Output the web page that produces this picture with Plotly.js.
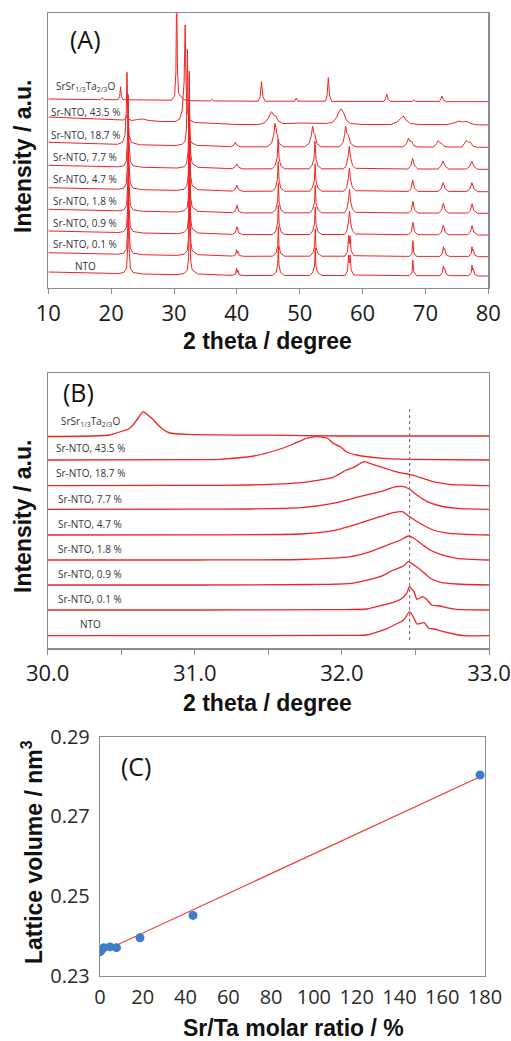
<!DOCTYPE html>
<html>
<head>
<meta charset="utf-8">
<script src="https://cdn.plot.ly/plotly-3.0.1.min.js"></script>
<style>
  html, body { margin: 0; padding: 0; background: #fff; }
  #chart { width: 511px; height: 1041px; }
</style>
</head>
<body>
<div id="chart"></div>
<script>
// ---------- sample names (bottom to top) ----------
const sampleNames = [
  'NTO', 'Sr-NTO, 0.1 %', 'Sr-NTO, 0.9 %', 'Sr-NTO, 1.8 %', 'Sr-NTO, 4.7 %',
  'Sr-NTO, 7.7 %', 'Sr-NTO, 18.7 %', 'Sr-NTO, 43.5 %', 'SrSr<sub>1/3</sub>Ta<sub>2/3</sub>O'
];

// ---------- (A) wide-range XRD patterns: [2θ / degree, intensity / a.u.] ----------
const wideNTO = [[10,4],[16,3.2],[21.2,2.5],[22.0,3.5],[22.45,8],[22.65,30],[22.74,75],[22.83,30],[23.05,8],[23.5,3.5],[25,2],[30.5,1.3],[31.6,2.5],[32.1,6],[32.32,18],[32.4,50],[32.47,98],[32.54,45],[32.66,15],[32.9,6],[33.8,2],[39.3,0.6],[39.8,2],[39.95,8],[40.05,3.5],[40.15,6],[40.4,1.2],[41,0.4],[45.7,0.5],[46.25,4],[46.5,12],[46.6,30],[46.7,11],[46.95,3.5],[47.6,0.5],[51.6,0.5],[52.1,4],[52.37,11],[52.47,28],[52.57,10],[52.85,3.5],[53.5,0.5],[57.2,0.5],[57.6,5],[57.78,21],[57.9,13],[58.02,21],[58.18,6],[58.6,1],[67.4,0.3],[67.85,3],[68.0,16],[68.15,4],[68.6,0.3],[72.3,0.3],[72.7,3.5],[72.85,10],[72.95,7],[73.05,8],[73.3,2],[73.8,0.3],[76.9,0.3],[77.3,3.5],[77.4,11],[77.5,6],[77.6,7.5],[77.85,1.5],[78.4,0],[80,0]];
const wideSr01 = [[10,4],[16,3.2],[21.2,2.5],[22.0,3.5],[22.45,8],[22.65,30],[22.74,75],[22.83,30],[23.05,8],[23.5,3.5],[25,2],[30.5,1.3],[31.6,2.5],[32.1,6],[32.32,18],[32.4,50],[32.47,98],[32.54,45],[32.66,15],[32.9,6],[33.8,2],[39.3,0.6],[39.8,2],[39.95,7],[40.05,3.5],[40.15,5.5],[40.4,1.2],[41,0.4],[45.7,0.5],[46.25,4],[46.5,12],[46.6,30],[46.7,11],[46.95,3.5],[47.6,0.5],[51.6,0.5],[52.1,4],[52.37,11],[52.47,28],[52.57,10],[52.85,3.5],[53.5,0.5],[57.2,0.5],[57.6,5],[57.78,21],[57.9,13],[58.02,21],[58.18,6],[58.6,1],[67.4,0.3],[67.85,3],[68.0,16],[68.15,4],[68.6,0.3],[72.3,0.3],[72.7,3.5],[72.85,10],[72.95,7],[73.05,8],[73.3,2],[73.8,0.3],[76.9,0.3],[77.3,3.5],[77.4,10],[77.5,6],[77.6,7],[77.85,1.5],[78.4,0],[80,0]];
const wideSr09 = [[10,4],[16,3.2],[21.2,2.5],[22.0,3.5],[22.45,8],[22.65,30],[22.74,75],[22.83,30],[23.05,8],[23.5,3.5],[25,2],[30.5,1.3],[31.6,2.5],[32.1,6],[32.32,18],[32.4,50],[32.46,98],[32.53,45],[32.66,15],[32.9,6],[33.8,2],[39.3,0.6],[39.75,2.5],[40.02,8.3],[40.3,2],[40.9,0.4],[45.7,0.5],[46.2,4],[46.48,12],[46.6,30],[46.73,11],[47.0,3.5],[47.6,0.5],[51.6,0.5],[52.05,4],[52.35,11],[52.47,28],[52.6,10],[52.9,3.5],[53.5,0.5],[57.1,0.5],[57.5,4],[57.75,13],[57.92,24],[58.1,12],[58.4,4],[58.9,1],[67.3,0.3],[67.75,3],[68.0,12.7],[68.25,3.5],[68.8,0.3],[72.1,0.3],[72.55,3],[72.85,10],[73.15,3],[73.7,0.3],[76.7,0.3],[77.15,3],[77.42,9.5],[77.7,3],[78.3,0],[80,0]];
const wideSr18 = [[10,4],[16,3.2],[21.2,2.5],[22.0,3.5],[22.45,8],[22.65,30],[22.74,75],[22.83,30],[23.05,8],[23.5,3.5],[25,2],[30.5,1.3],[31.6,2.5],[32.1,6],[32.32,18],[32.4,50],[32.46,98],[32.53,45],[32.66,15],[32.9,6],[33.8,2],[39.3,0.6],[39.75,2.5],[40.02,8],[40.3,2],[40.9,0.4],[45.7,0.5],[46.2,4],[46.48,12],[46.6,30],[46.73,11],[47.0,3.5],[47.6,0.5],[51.6,0.5],[52.05,4],[52.35,11],[52.47,28],[52.6,10],[52.9,3.5],[53.5,0.5],[57.1,0.5],[57.5,4],[57.75,13],[57.92,24],[58.1,12],[58.4,4],[58.9,1],[67.3,0.3],[67.75,3],[68.0,12],[68.25,3.5],[68.8,0.3],[72.1,0.3],[72.55,3],[72.85,10],[73.15,3],[73.7,0.3],[76.7,0.3],[77.15,3],[77.42,9.5],[77.7,3],[78.3,0],[80,0]];
const wideSr47 = [[10,4],[16,3.2],[21.2,2.5],[22.0,3.5],[22.4,8],[22.62,30],[22.72,75],[22.82,30],[23.05,8],[23.5,3.5],[25,2],[30.5,1.3],[31.6,2.5],[32.05,6],[32.28,18],[32.37,50],[32.44,98],[32.52,45],[32.66,15],[32.9,6],[33.8,2],[39.3,0.6],[39.75,2.5],[40.0,6.5],[40.3,2],[40.9,0.4],[45.7,0.5],[46.15,4],[46.45,12],[46.58,30],[46.72,11],[47.0,3.5],[47.6,0.5],[51.6,0.5],[52.0,4],[52.32,11],[52.45,28],[52.6,10],[52.9,3.5],[53.5,0.5],[57.0,0.5],[57.45,4],[57.72,13],[57.9,23.5],[58.08,12],[58.4,4],[58.9,1],[67.3,0.3],[67.7,3],[67.98,11.5],[68.25,3.5],[68.8,0.3],[72.0,0.3],[72.5,3],[72.82,9],[73.15,3],[73.7,0.3],[76.6,0.3],[77.1,3],[77.4,9],[77.7,3],[78.3,0],[80,0]];
const wideSr77 = [[10,4],[16,3.2],[21.2,2.5],[22.0,3.5],[22.4,8],[22.6,30],[22.71,75],[22.82,30],[23.05,8],[23.5,3.5],[25,2],[30.5,1.3],[31.6,2.5],[32.0,6],[32.25,18],[32.35,50],[32.43,98],[32.51,45],[32.66,15],[32.9,6],[33.8,2],[39.3,0.6],[39.7,2.5],[39.98,5.5],[40.3,2],[40.9,0.4],[45.6,0.5],[46.1,4],[46.42,12],[46.56,30],[46.72,11],[47.0,3.5],[47.6,0.5],[51.5,0.5],[51.95,4],[52.28,11],[52.43,28],[52.6,10],[52.9,3.5],[53.5,0.5],[57.0,0.5],[57.4,4],[57.7,13],[57.88,23],[58.08,12],[58.4,4],[58.9,1],[67.2,0.3],[67.65,3],[67.95,11],[68.25,3.5],[68.8,0.3],[72.0,0.3],[72.45,3],[72.8,8],[73.15,3],[73.7,0.3],[76.5,0.3],[77.05,3],[77.38,8],[77.7,3],[78.3,0],[80,0]];
const wideSr187 = [[10,5],[16,4],[21,3],[21.8,5],[22.2,12],[22.4,36],[22.52,75],[22.64,34],[22.85,12],[23.2,5],[24.5,2.5],[30.3,1.8],[31.3,3],[31.75,6],[31.95,16],[32.05,45],[32.13,98],[32.22,44],[32.4,14],[32.7,5],[33.6,2],[39.0,0.6],[39.5,2],[39.75,5],[40.0,2.5],[40.5,0.5],[44.8,0.5],[45.5,4],[45.85,12],[46.08,24],[46.25,15],[46.4,13],[46.7,4],[47.4,0.5],[50.8,0.5],[51.5,4],[51.85,12],[52.05,21],[52.25,14],[52.4,13],[52.7,4],[53.4,0.5],[56.3,0.5],[56.9,5],[57.15,13],[57.3,21],[57.5,14],[57.75,12],[58.1,4],[58.8,0.5],[66.5,0.5],[67.0,4],[67.3,9],[67.55,6],[67.8,6],[68.2,1.5],[68.8,0.3],[71.3,0.3],[71.8,4],[72.0,6.6],[72.3,4.5],[72.55,4],[73.0,1],[73.6,0.3],[75.8,0.3],[76.3,4],[76.55,7],[76.85,5],[77.15,5],[77.6,1],[78.3,0],[80,0]];
const wideSr435 = [[10,8],[15,7],[20,5.5],[22.0,5],[22.4,8],[22.55,10],[22.75,6],[23.3,4.5],[24.2,5.5],[25.0,6],[26.0,4.5],[28,3.5],[30.2,3.5],[30.9,6],[31.3,15],[31.6,42],[31.78,100],[31.9,44],[32.1,14],[32.5,5],[33.3,2.5],[36,1.5],[40,0.5],[43.5,0.5],[44.5,2.5],[45.1,8],[45.5,13.3],[45.85,10],[46.2,9],[46.6,4],[47.3,1.5],[48.5,1.5],[50,2],[52,1.8],[54,1.5],[55.2,2.5],[55.9,8],[56.4,15],[56.6,16],[57.0,12],[57.4,5],[58.1,1.5],[60,0.5],[64.5,0.5],[65.5,3],[66.2,7.5],[66.5,9],[66.9,5],[67.6,1.5],[69,0.5],[73.5,0.5],[74.5,2],[75.4,4],[75.9,3],[76.6,3.5],[77.2,1.5],[78,0.3],[80,0]];
const wideSSTO = [[10,2.7],[17,2],[18.3,2],[18.6,4],[18.9,2],[21.1,2],[21.35,5],[21.5,15],[21.65,5],[21.9,2],[29.6,1.5],[30.1,6],[30.3,30],[30.42,115],[30.55,30],[30.75,8],[31.0,6],[31.2,5],[31.5,2],[32.5,1],[35.7,0.8],[36.0,2.2],[36.3,0.8],[43.4,0.5],[43.7,5],[43.92,20],[44.15,5],[44.5,0.5],[49.2,0.5],[49.45,3.7],[49.7,0.5],[54.1,0.5],[54.35,6],[54.55,24],[54.75,6],[55.1,0.3],[63.4,0.3],[63.65,3],[63.84,7.7],[64.05,2.5],[64.4,0.3],[67.9,0.3],[68.15,1.8],[68.4,0.3],[72.2,0.3],[72.45,2.5],[72.62,5.7],[72.85,2],[73.3,0],[80,0]];

// ---------- (B) main reflection region: [2θ / degree, intensity / a.u.] ----------
const zoomNTO = [[30.0,0],[31.0,0],[32.0,0.3],[32.17,0.7],[32.31,7.4],[32.37,11.7],[32.42,15.7],[32.46,24],[32.49,17.4],[32.51,11.7],[32.56,13],[32.59,7.4],[32.64,6.4],[32.69,4],[32.76,1.7],[32.83,0],[33.0,0]];
const zoomSr01 = [[30.0,0],[31.0,0],[32.0,0.3],[32.17,1],[32.28,5],[32.35,7.7],[32.4,10.7],[32.44,16.7],[32.46,23.3],[32.49,18.3],[32.51,10.7],[32.55,13.3],[32.58,10],[32.61,5],[32.67,4],[32.71,2.3],[32.78,0.7],[33.0,0]];
const zoomSr09 = [[30.0,0],[31.0,0],[31.8,0.5],[32.06,1.7],[32.26,8.3],[32.35,15],[32.42,19],[32.45,23.3],[32.5,19],[32.55,13.3],[32.6,6.7],[32.67,2.7],[32.78,1],[33.0,0]];
const zoomSr18 = [[30.0,0],[31.0,0],[31.72,0.5],[32.06,3.3],[32.17,7.3],[32.31,15],[32.4,20],[32.45,24],[32.49,21.7],[32.55,15],[32.6,10],[32.67,5.7],[32.78,1.7],[33.0,0]];
const zoomSr47 = [[30.0,0],[31.0,0.1],[31.72,1],[31.94,4.3],[32.12,11.7],[32.26,18.3],[32.35,22.3],[32.41,23.3],[32.46,18.3],[32.53,11.7],[32.62,5],[32.73,1.7],[33.0,0]];
const zoomSr77 = [[30.0,0],[31.0,0.1],[31.38,0.3],[31.72,1.6],[31.94,6],[32.12,12.6],[32.26,17.6],[32.37,22.6],[32.42,22.6],[32.46,20],[32.51,14.3],[32.58,7.6],[32.67,3.3],[32.78,1],[33.0,0]];
const zoomSr187 = [[30.0,0],[31.0,0.3],[31.38,0.7],[31.72,3],[31.94,8.4],[32.03,15.7],[32.08,18.4],[32.15,24],[32.19,22.4],[32.26,19],[32.33,15.7],[32.39,13],[32.46,11.4],[32.53,8.4],[32.62,4],[32.73,1.4],[33.0,0]];
const zoomSr435 = [[30.0,0],[31.0,0.3],[31.17,0.7],[31.4,4],[31.56,10],[31.67,16],[31.76,21.7],[31.83,23.3],[31.9,22],[31.94,16.7],[31.99,13.3],[32.03,8.3],[32.1,5],[32.28,1.7],[32.46,0.7],[33.0,0]];
const zoomSSTO = [[30.0,-0.5],[30.3,0],[30.42,1],[30.51,5],[30.55,7],[30.58,11],[30.62,19],[30.65,24.3],[30.68,21],[30.72,16],[30.75,11],[30.79,6],[30.83,3],[30.95,1.7],[31.5,0.8],[32.0,0],[33.0,0]];

// reflection position of undoped NTO marked in (B)
const ntoPeakPosition = 32.46;

// ---------- (C) lattice volume vs Sr/Ta ratio ----------
const srTaRatio = [0, 0.1, 0.9, 1.8, 4.7, 7.7, 18.7, 43.5, 177.7];
const latticeVolume = [0.2361, 0.2362, 0.2367, 0.2371, 0.2373, 0.2371, 0.2396, 0.2452, 0.2804];

// ---------- drawing ----------
const RED = 'rgb(238,36,36)';
const widePatterns = [wideNTO, wideSr01, wideSr09, wideSr18, wideSr47, wideSr77, wideSr187, wideSr435, wideSSTO];
const zoomPatterns = [zoomNTO, zoomSr01, zoomSr09, zoomSr18, zoomSr47, zoomSr77, zoomSr187, zoomSr435, zoomSSTO];
// vertical stacking of the patterns (a.u.)
const wideOffsets = [12, 31.3, 53, 74.7, 96.3, 118.7, 140.7, 163, 186.3];
const zoomOffsets = [12.6, 38.3, 63.3, 88.3, 113.3, 139, 162.6, 188.3, 212.3];

const traces = [];
widePatterns.forEach((pat, i) => {
  traces.push({
    type: 'scatter', mode: 'lines', xaxis: 'x', yaxis: 'y',
    x: pat.map(p => p[0]), y: pat.map(p => p[1] + wideOffsets[i]),
    line: { color: RED, width: 1 }, hoverinfo: 'skip', showlegend: false
  });
});
zoomPatterns.forEach((pat, i) => {
  traces.push({
    type: 'scatter', mode: 'lines', xaxis: 'x2', yaxis: 'y2',
    x: pat.map(p => p[0]), y: pat.map(p => p[1] + zoomOffsets[i]),
    line: { color: RED, width: 1.3, shape: 'spline', smoothing: 0.5 }, hoverinfo: 'skip', showlegend: false
  });
});

// least-squares trend line through the lattice volumes
const n = srTaRatio.length;
const mx = srTaRatio.reduce((a, b) => a + b, 0) / n;
const my = latticeVolume.reduce((a, b) => a + b, 0) / n;
let sxy = 0, sxx = 0;
for (let i = 0; i < n; i++) {
  sxy += (srTaRatio[i] - mx) * (latticeVolume[i] - my);
  sxx += (srTaRatio[i] - mx) ** 2;
}
const slope = sxy / sxx, intercept = my - slope * mx;
const xFit = [Math.min(...srTaRatio), Math.max(...srTaRatio)];
traces.push({
  type: 'scatter', mode: 'lines', xaxis: 'x3', yaxis: 'y3',
  x: xFit, y: xFit.map(v => intercept + slope * v),
  line: { color: 'rgb(240,60,50)', width: 1.2 }, hoverinfo: 'skip', showlegend: false
});
traces.push({
  type: 'scatter', mode: 'markers', xaxis: 'x3', yaxis: 'y3',
  x: srTaRatio, y: latticeVolume,
  marker: { color: 'rgb(61,127,198)', size: 9 }, hoverinfo: 'skip', showlegend: false
});

const frame = { showline: true, mirror: true, linecolor: '#8c8c8c', linewidth: 1.2, showgrid: false, zeroline: false };
const tickFontAB = { family: 'Open Sans, sans-serif', size: 22, color: '#1a1a1a' };
const tickFontC = { family: 'Open Sans', size: 20, color: '#2a2a2a' };
const titleFont = { family: 'Liberation Sans, Arial, sans-serif', size: 23, color: '#111', weight: 'bold' };
const labelFont = { family: 'Open Sans, sans-serif', size: 10, color: '#333' };

const annotations = [];
// sample labels
const wideLabelY = [22.3, 43.7, 65.3, 87, 108.7, 130.7, 153, 175.7, 202];
const zoomLabelY = [24.6, 49.3, 74.3, 99, 124.3, 149.3, 175.6, 200.6, 226.6];
sampleNames.forEach((name, i) => {
  annotations.push({ xref: 'x', yref: 'y', x: 15.84, y: wideLabelY[i], text: name, showarrow: false, font: labelFont, xanchor: 'center', yanchor: 'middle' });
  annotations.push({ xref: 'x2', yref: 'y2', x: 30.29, y: zoomLabelY[i], text: name, showarrow: false, font: labelFont, xanchor: 'center', yanchor: 'middle' });
});
// panel letters
const letterFont = { family: 'Open Sans, sans-serif', size: 25, color: '#111' };
annotations.push({ xref: 'x', yref: 'y', x: 15.84, y: 248.7, text: '(A)', showarrow: false, font: letterFont });
annotations.push({ xref: 'x2', yref: 'y2', x: 30.21, y: 256.6, text: '(B)', showarrow: false, font: letterFont });
annotations.push({ xref: 'x3', yref: 'y3', x: 17.0, y: 0.2826, text: '(C)', showarrow: false, font: letterFont });
// axis titles
const W = 511, H = 1041;
const ttl = (text, px, py, angle) => ({ xref: 'paper', yref: 'paper', x: px / W, y: 1 - py / H, text, showarrow: false, font: titleFont, textangle: angle || 0, xanchor: 'center', yanchor: 'middle' });
annotations.push(ttl('2 theta / degree', 267.5, 341));
annotations.push(ttl('Intensity / a.u.', 23, 157, -90));
annotations.push(ttl('2 theta / degree', 267.5, 703));
annotations.push(ttl('Intensity / a.u.', 23, 517, -90));
annotations.push(ttl('Sr/Ta molar ratio / %', 293, 1028));
annotations.push(ttl('Lattice volume / nm<sup>3</sup>', 32, 852, -90));

const layout = {
  width: W, height: H,
  margin: { l: 0, r: 0, t: 0, b: 0 },
  paper_bgcolor: '#fff', plot_bgcolor: '#fff',
  showlegend: false,
  xaxis: Object.assign({}, frame, {
    domain: [48.3 / W, 488.3 / W], anchor: 'y', range: [10, 80],
    tick0: 10, dtick: 10, ticks: 'outside', ticklen: 5, tickcolor: '#8c8c8c', tickfont: tickFontAB
  }),
  yaxis: Object.assign({}, frame, {
    domain: [1 - 288 / H, 1 - 13.3 / H], anchor: 'x', range: [0, 274.7], showticklabels: false, ticks: ''
  }),
  xaxis2: Object.assign({}, frame, {
    domain: [47.7 / W, 489 / W], anchor: 'y2', range: [30, 33],
    tick0: 30, dtick: 1, tickformat: '.1f',
    ticks: 'outside', ticklen: 5, tickcolor: '#8c8c8c', tickfont: tickFontAB,
    minor: { dtick: 0.5, ticks: 'outside', ticklen: 5, tickcolor: '#8c8c8c', showgrid: false }
  }),
  yaxis2: Object.assign({}, frame, {
    domain: [1 - 648.3 / H, 1 - 373.3 / H], anchor: 'x2', range: [0, 275], showticklabels: false, ticks: ''
  }),
  xaxis3: Object.assign({}, frame, {
    domain: [100 / W, 485 / W], anchor: 'y3', range: [0, 180], tick0: 0, dtick: 20,
    ticks: 'outside', ticklen: 3, tickcolor: 'rgba(0,0,0,0)', tickfont: tickFontC
  }),
  yaxis3: Object.assign({}, frame, {
    domain: [1 - 976 / H, 1 - 736.7 / H], anchor: 'x3', range: [0.23, 0.29], tick0: 0.23, dtick: 0.02,
    tickformat: '.2f', ticks: 'outside', ticklen: 5, tickcolor: 'rgba(0,0,0,0)', tickfont: tickFontC
  }),
  shapes: [{
    type: 'line', xref: 'x2', yref: 'y2', x0: ntoPeakPosition, x1: ntoPeakPosition, y0: 8.3, y1: 241.6,
    line: { color: '#777', width: 1.2, dash: 'dot' }
  }],
  annotations
};

Plotly.newPlot('chart', traces, layout, { displayModeBar: false, staticPlot: true });
</script>
</body>
</html>
